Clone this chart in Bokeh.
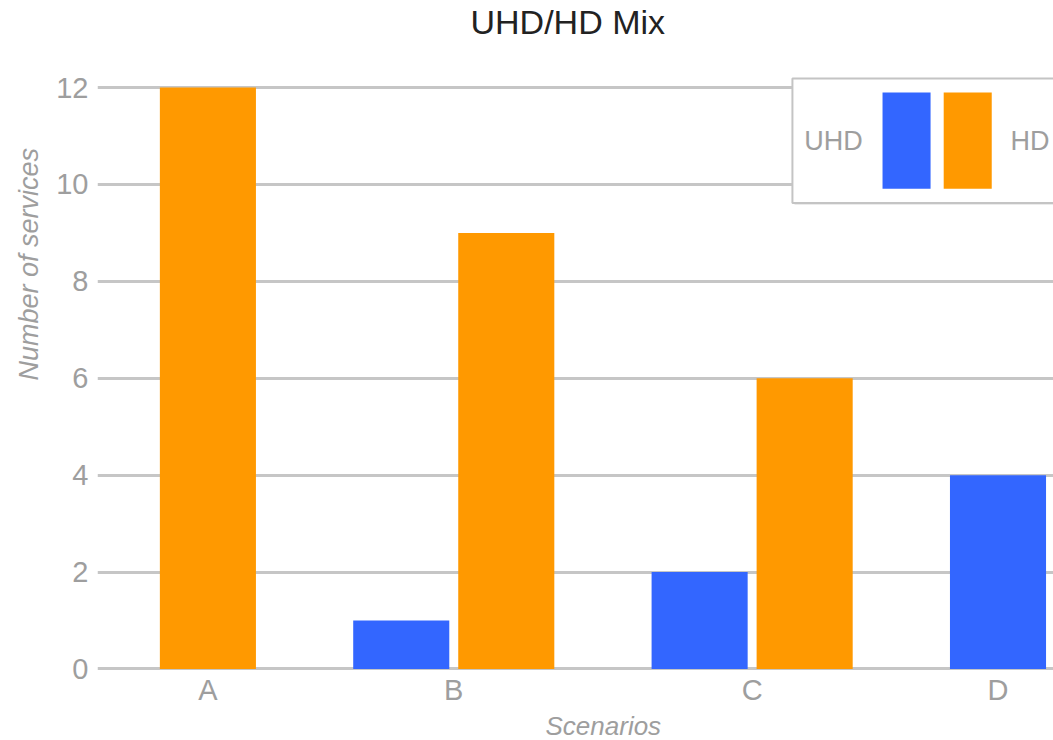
from bokeh.plotting import figure
from bokeh.models import Range1d, FixedTicker, BoxAnnotation, Label, Title
from bokeh.embed import file_html
from bokeh.resources import INLINE

# ---- data ----
categories = ["A", "B", "C", "D"]
uhd = [0, 1, 2, 4]
hd = [12, 9, 6, 0]
y_ticks = [0, 2, 4, 6, 8, 10, 12]
series_names = ["UHD", "HD"]

# ---- styles ----
BLUE = "#3366ff"
ORANGE = "#ff9900"
GRAY_TEXT = "#9e9e9e"
GRID = "#c6c6c6"
FONT = "Liberation Sans"

offset = 0.176
bar_w = 0.322

group = list(range(len(categories)))
uhd_x = [g - offset for g in group]
hd_x = [g + offset for g in group]

# category label sits under the centre of the non-zero bars of the group
label_pos = []
for g, u, h in zip(group, uhd, hd):
    cs = [c for c, v in ((g - offset, u), (g + offset, h)) if v > 0]
    label_pos.append(round(sum(cs) / len(cs), 4))

p = figure(width=1053, height=740,
           x_range=Range1d(-0.194, 3.010), y_range=Range1d(-0.031, 12.972),
           output_backend="svg", toolbar_location=None,
           min_border_left=97, min_border_right=0, min_border_top=40,
           min_border_bottom=0)
p.outline_line_color = None
p.background_fill_color = "white"
p.border_fill_color = "white"

p.vbar(x=uhd_x, top=uhd, width=bar_w, fill_color=BLUE, line_color=None)
p.vbar(x=hd_x, top=hd, width=bar_w, fill_color=ORANGE, line_color=None)

# title
p.title.text = "UHD/HD Mix"
p.title.text_font = FONT
p.title.text_font_size = "34px"
p.title.text_font_style = "normal"
p.title.text_color = "#222222"
p.title.align = "left"
p.title.offset = 373
p.title.standoff = 0

# axes
p.xaxis.ticker = FixedTicker(ticks=label_pos)
p.xaxis.major_label_overrides = {pos: c for pos, c in zip(label_pos, categories)}
p.yaxis.ticker = FixedTicker(ticks=y_ticks)
for ax in (p.xaxis[0], p.yaxis[0]):
    ax.axis_line_color = None
    ax.major_tick_line_color = None
    ax.minor_tick_line_color = None
    ax.major_tick_out = 0
    ax.minor_tick_out = 0
    ax.major_label_text_font = FONT
    ax.major_label_text_font_size = "29px"
    ax.major_label_text_color = GRAY_TEXT
p.xaxis.major_label_standoff = 3
p.yaxis.major_label_standoff = 9

p.xgrid.visible = False
p.ygrid.ticker = FixedTicker(ticks=y_ticks)
p.ygrid.grid_line_color = GRID
p.ygrid.grid_line_width = 3

# axis titles
ytitle = Title(text="Number of services", align="left", offset=290, standoff=20,
               text_font=FONT, text_font_size="27px", text_font_style="italic",
               text_color=GRAY_TEXT)
p.add_layout(ytitle, "left")
xtitle = Title(text="Scenarios", align="left", offset=448, standoff=0,
               text_font=FONT, text_font_size="26px", text_font_style="italic",
               text_color=GRAY_TEXT)
p.add_layout(xtitle, "below")

# legend (drawn as annotations: "UHD [blue] [orange] HD")
p.add_layout(BoxAnnotation(left=2.142, right=3.3, top=12.15, bottom=9.58,
                           fill_color="#e4e4e4", fill_alpha=1.0,
                           line_color=None, level="annotation"))
p.add_layout(BoxAnnotation(left=2.135, right=3.3, top=12.19, bottom=9.62,
                           fill_color="white", fill_alpha=1.0,
                           line_color="#c4c4c4", line_alpha=1.0, line_width=2,
                           level="annotation"))
p.add_layout(BoxAnnotation(left=2.437, right=2.598, top=11.90, bottom=9.91,
                           fill_color=BLUE, fill_alpha=1.0, line_color=None))
p.add_layout(BoxAnnotation(left=2.642, right=2.803, top=11.90, bottom=9.91,
                           fill_color=ORANGE, fill_alpha=1.0, line_color=None))
p.add_layout(Label(x=2.273, y=10.90, text=series_names[0], text_align="center",
                   text_baseline="middle", text_font=FONT, text_font_size="27px",
                   text_color=GRAY_TEXT))
p.add_layout(Label(x=2.866, y=10.90, text=series_names[1], text_align="left",
                   text_baseline="middle", text_font=FONT, text_font_size="27px",
                   text_color=GRAY_TEXT))

open("out.html", "w").write(file_html(p, INLINE))
